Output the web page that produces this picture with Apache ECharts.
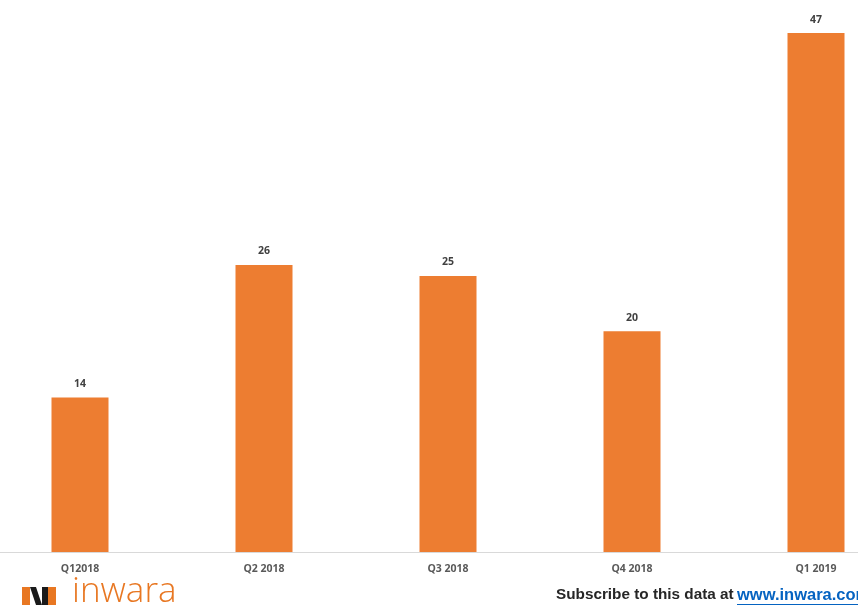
<!DOCTYPE html>
<html>
<head>
<meta charset="utf-8">
<script src="https://cdn.jsdelivr.net/npm/echarts@6/dist/echarts.min.js"></script>
<style>
html,body{margin:0;padding:0;background:#fff;}
#chart{width:858px;height:607px;}
</style>
</head>
<body>
<div id="chart"></div>
<script>
const categories = ['Q12018', 'Q2 2018', 'Q3 2018', 'Q4 2018', 'Q1 2019'];
const values = [14, 26, 25, 20, 47];

const chart = echarts.init(document.getElementById('chart'), null, {renderer: 'canvas'});
chart.setOption({
  animation: false,
  backgroundColor: '#ffffff',
  grid: {left: -12, right: -50, top: 0, bottom: 55, containLabel: false, outerBoundsMode: 'none'},
  xAxis: {
    type: 'category',
    data: categories,
    axisLine: {show: true, lineStyle: {color: '#d9d9d9', width: 1}},
    axisTick: {show: false},
    axisLabel: {
      color: '#595959', fontSize: 10.5, fontWeight: 'bold',
      fontFamily: 'Open Sans, sans-serif', margin: 12
    }
  },
  yAxis: {
    type: 'value', min: 0, max: 50,
    show: false,
    splitLine: {show: false}
  },
  series: [{
    type: 'bar',
    data: values,
    barWidth: 57,
    itemStyle: {color: '#ED7D31'},
    label: {
      show: true, position: 'top', distance: 8,
      color: '#404040', fontSize: 10.5, fontWeight: 'bold',
      fontFamily: 'Open Sans, sans-serif'
    }
  }],
  graphic: [
    {type: 'rect', shape: {x: 22, y: 587, width: 8, height: 18}, style: {fill: '#E87722'}},
    {type: 'polygon', shape: {points: [[30, 587], [36, 587], [42, 605], [36, 605]]}, style: {fill: '#1a1a1a'}},
    {type: 'polygon', shape: {points: [[42, 587], [48, 587], [48, 605], [42, 605]]}, style: {fill: '#1a1a1a'}},
    {type: 'rect', shape: {x: 48, y: 587, width: 8, height: 18}, style: {fill: '#E87722'}},
    {type: 'text', left: 72, top: 575, style: {
      text: 'inwara', fill: '#E87722', fontSize: 35, fontWeight: 300,
      fontFamily: 'Open Sans, sans-serif'
    }},
    {type: 'text', left: 556, top: 587, style: {
      text: 'Subscribe to this data at ', fill: '#262626', fontSize: 15.3, fontWeight: 'bold',
      fontFamily: 'Liberation Sans, Arial, sans-serif'
    }},
    {type: 'text', left: 737, top: 587, style: {
      text: 'www.inwara.com', fill: '#0563C1', fontSize: 16.5, fontWeight: 'bold',
      fontFamily: 'Liberation Sans, Arial, sans-serif'
    }},
    {type: 'line', shape: {x1: 737, y1: 604.5, x2: 870, y2: 604.5}, style: {stroke: '#0563C1', lineWidth: 1}}
  ]
});
</script>
</body>
</html>
